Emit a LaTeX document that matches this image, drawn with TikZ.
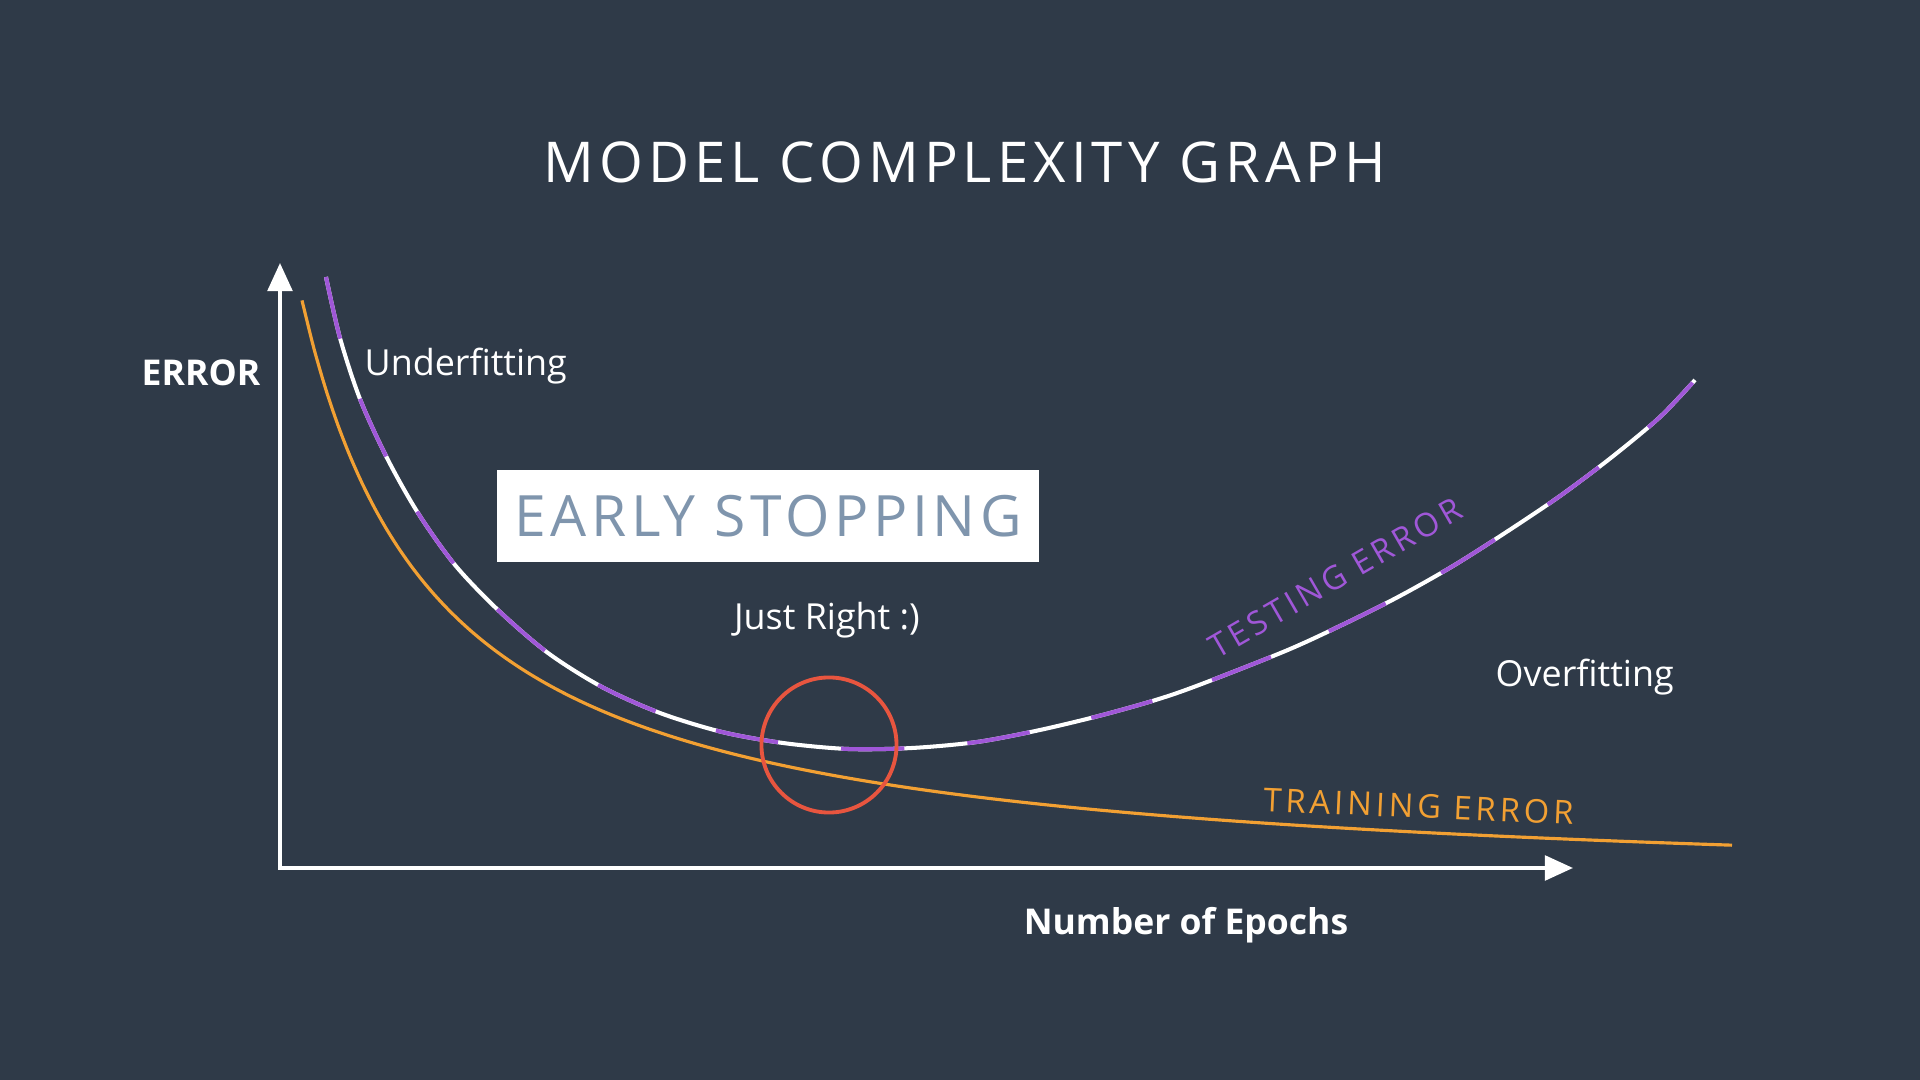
\documentclass[tikz,border=0pt]{standalone}
\usepackage{fontspec}
\setmainfont{Open Sans}
\newfontfamily\spacedfont[LetterSpace=9]{Open Sans}
\newfontfamily\tagfont[LetterSpace=12]{Open Sans}
\newfontfamily\boxfont[LetterSpace=8]{Open Sans}
\usetikzlibrary{arrows.meta}
\definecolor{bg}{HTML}{2F3A48}
\definecolor{purp}{HTML}{A057D8}
\definecolor{orng}{HTML}{F2A033}
\definecolor{redc}{HTML}{E8553F}
\definecolor{stopc}{HTML}{7F95AD}
\tikzset {>={Triangle[length=8pt,width=7pt]}}
\tikzset{
  axis/.style={draw=white,line width=1.1pt},
  lbl/.style={text=white,font=\fontsize{10.2}{12}\selectfont,inner sep=0pt},
  bold/.style={text=white,font=\fontsize{10.1}{12}\selectfont\bfseries,inner sep=0pt},
  tag/.style={font=\fontsize{9.3}{11}\selectfont\tagfont,inner sep=0pt},
  train/.style={draw=orng,line width=0.9pt},
  testing/.style={draw=white,line width=1.15pt,
    postaction={draw=purp,dash pattern=on 18pt off 18pt}}
}

\begin{document}
\begin{tikzpicture}[x=0.01cm,y=-0.01cm]
\useasboundingbox[fill=bg] (0,0) rectangle (1920,1080);
\node[text=white,font=\fontsize{16}{19}\selectfont\spacedfont,inner sep=0pt] (title) at (965,162) {MODEL COMPLEXITY GRAPH};

% axes
\coordinate (O) at (280,868);
\coordinate (ytop) at (280,263);
\coordinate (xend) at (1573,868);
\draw[axis,<->] (ytop) -- (O) -- (xend);
\node[bold] (yname) at (201,373) {ERROR};
\node[bold,anchor=base] (xname) at (1186,935) {Number of Epochs};

% training error
\draw[train] plot[domain=302:1732,samples=120,smooth] (\x,{897-811.34/((\x-166)/100)});

% testing error
\draw[testing] plot[smooth] coordinates {(326,277) (340,338) (360,399) (387,458) (418,513)
  (455,565) (498,610) (548,653) (602,687) (660,713) (722,732) (783,743) (848,749)
  (912,748) (977,742) (1040,730) (1110,713) (1180,692) (1283,652) (1342,625)
  (1398,597) (1453,566) (1508,531) (1560,496) (1612,457) (1660,417) (1695,380)};

\node[lbl,anchor=base west] (under) at (364,376) {Underfitting};
\node[lbl,anchor=base west] (over) at (1495,687) {Overfitting};
\node[lbl,anchor=base] (right) at (827,630) {Just Right :)};
\node[fill=white,minimum width=5.42cm,minimum height=0.92cm,text=stopc,
  font=\fontsize{16.2}{20}\selectfont\boxfont] (early) at (768,516) {EARLY STOPPING};
\node[draw=redc,line width=1.1pt,circle,minimum size=1.35cm,inner sep=0pt] (stop) at (829,745) {};

\node[tag,text=purp,rotate=30,anchor=base] (testlbl) at (1341,588) {TESTING ERROR};
\node[tag,text=orng,rotate=-2.5,anchor=base] (trainlbl) at (1418,818) {TRAINING ERROR};
\end{tikzpicture}
\end{document}
